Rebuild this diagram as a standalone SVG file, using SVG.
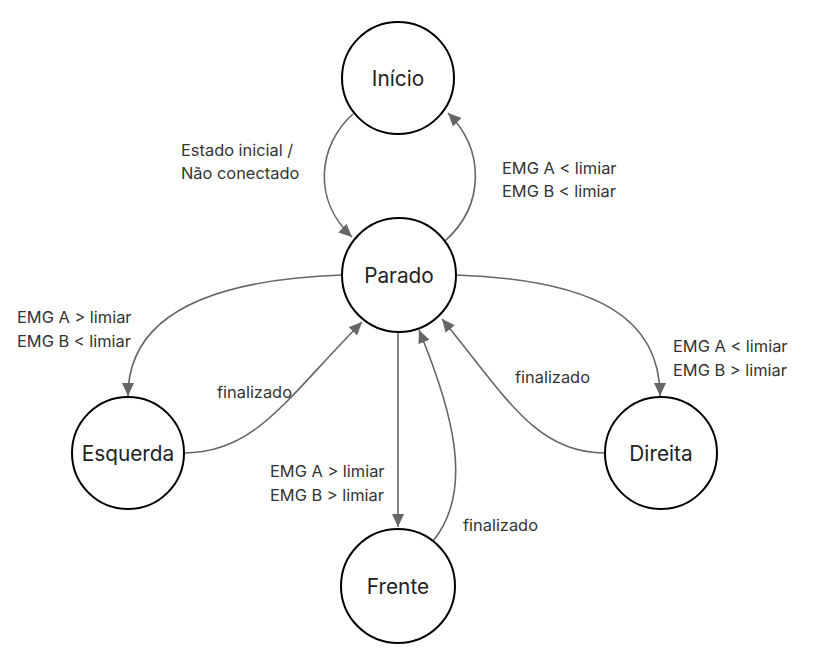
<svg xmlns="http://www.w3.org/2000/svg" width="820" height="651" viewBox="0 0 820 651">
<defs>
<marker id="arr" markerUnits="userSpaceOnUse" markerWidth="14" markerHeight="12" refX="13" refY="6" orient="auto">
<path d="M0,0 L13,6 L0,12 z" fill="#666"/>
</marker>
<style>
.node circle{fill:#fff;stroke:#000;stroke-width:2}
.node text{font-family:Inter,"Liberation Sans",sans-serif;font-size:20.8px;fill:#222;text-anchor:middle;dominant-baseline:central}
.edge{fill:none;stroke:#666;stroke-width:1.6;marker-end:url(#arr)}
.lbl{font-family:Inter,"Liberation Sans",sans-serif;font-size:16.4px;fill:#333}
</style>
</defs>
<rect width="820" height="651" fill="#fff"/>
<g id="connectors">
<path class="edge" d="M353,114 C318,145 312,200 352,237"/>
<path class="edge" d="M445,241 C485,205 485,150 448,113"/>
<path class="edge" d="M342,275 C200,280 128,320 128,396"/>
<path class="edge" d="M184,453 C255,453 285,400 362,322"/>
<path class="edge" d="M398,332 L398,527"/>
<path class="edge" d="M433,541 C475,490 452,410 419,330"/>
<path class="edge" d="M456,275 C600,280 660,320 660,396"/>
<path class="edge" d="M604,453 C535,453 505,395 442,319"/>
</g>
<g id="labels">
<text class="lbl" x="181" y="156">Estado inicial /</text>
<text class="lbl" x="181" y="179">Não conectado</text>
<text class="lbl" x="502" y="174">EMG A &lt; limiar</text>
<text class="lbl" x="502" y="197">EMG B &lt; limiar</text>
<text class="lbl" x="17" y="323">EMG A &gt; limiar</text>
<text class="lbl" x="17" y="347">EMG B &lt; limiar</text>
<text class="lbl" x="217" y="398">finalizado</text>
<text class="lbl" x="673" y="352">EMG A &lt; limiar</text>
<text class="lbl" x="673" y="376">EMG B &gt; limiar</text>
<text class="lbl" x="515" y="383">finalizado</text>
<text class="lbl" x="270" y="477">EMG A &gt; limiar</text>
<text class="lbl" x="270" y="501">EMG B &gt; limiar</text>
<text class="lbl" x="463" y="531">finalizado</text>
</g>
<g id="inicio" class="node"><circle cx="398" cy="78" r="56"/><text x="398" y="78">Início</text></g>
<g id="parado" class="node"><circle cx="399" cy="275" r="57"/><text x="399" y="275">Parado</text></g>
<g id="esquerda" class="node"><circle cx="128" cy="453" r="56"/><text x="128" y="453">Esquerda</text></g>
<g id="direita" class="node"><circle cx="661" cy="453" r="56"/><text x="661" y="453">Direita</text></g>
<g id="frente" class="node"><circle cx="398" cy="586" r="57"/><text x="398" y="586">Frente</text></g>
</svg>
